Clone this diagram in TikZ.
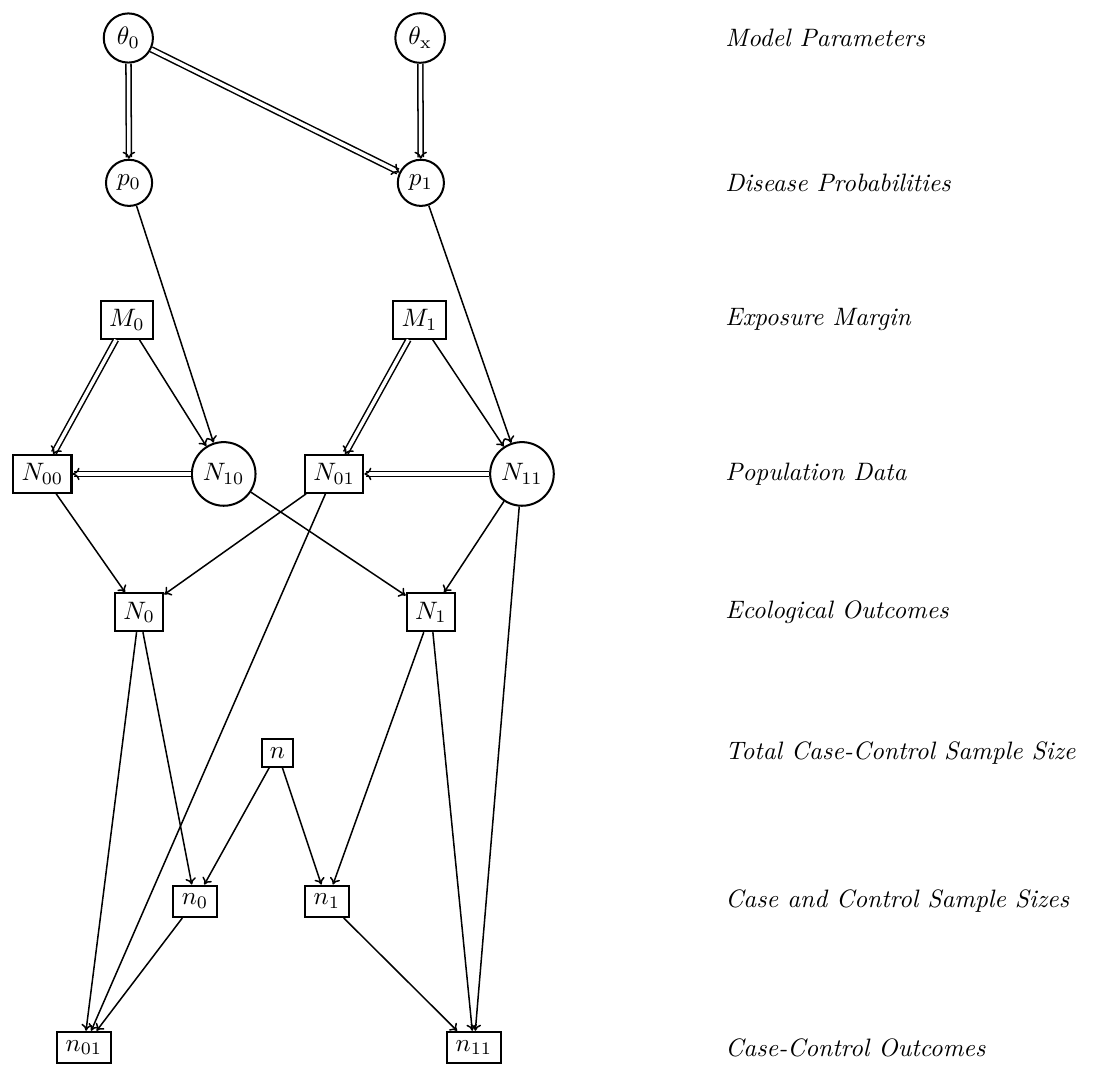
\documentclass[tikz,border=0pt]{standalone}
\usetikzlibrary{arrows.meta}
\begin{document}
\begin{tikzpicture}[semithick,
    >={Computer Modern Rightarrow[width = 4.2pt, length = 2.6pt]},
    lat/.style = {draw, circle, thick, inner sep = 2.5pt},
    obs/.style = {draw, rectangle, thick},
    dbl/.style = {double, double distance = 1.4pt,
        -{Computer Modern Rightarrow[line width = 0.6pt, width = 5pt, length = 2.8pt]}}]
    \useasboundingbox (0,0) rectangle (15.30,-14.86);
    % parameters and probabilities
    \node[lat] (theta0) at (1.79,-0.53) {$\theta_0$};
    \node[lat] (thetax) at (5.86,-0.53) {$\theta_{\mathrm{x}}$};
    \node[lat] (p0) at (1.80,-2.55) {$p_0$};
    \node[lat] (p1) at (5.87,-2.55) {$p_1$};
    % margins and population
    \node[obs] (M0) at (1.77,-4.46) {$M_0$};
    \node[obs] (M1) at (5.85,-4.46) {$M_1$};
    \node[obs] (N00) at (0.59,-6.61) {$N_{00}$};
    \node[lat] (N10) at (3.12,-6.61) {$N_{10}$};
    \node[obs] (N01) at (4.66,-6.61) {$N_{01}$};
    \node[lat] (N11) at (7.28,-6.61) {$N_{11}$};
    \node[obs] (N0) at (1.94,-8.54) {$N_0$};
    \node[obs] (N1) at (6.01,-8.54) {$N_1$};
    % case-control part
    \node[obs] (n) at (3.87,-10.50) {$n$};
    \node[obs] (n0) at (2.72,-12.57) {$n_0$};
    \node[obs] (n1) at (4.56,-12.57) {$n_1$};
    \node[obs] (n01) at (1.17,-14.61) {$n_{01}$};
    \node[obs] (n11) at (6.61,-14.61) {$n_{11}$};
    % deterministic links
    \foreach \a/\b in {theta0/p0, theta0/p1, thetax/p1, M0/N00, M1/N01, N10/N00, N11/N01}
        \draw[dbl] (\a) -- (\b);
    % stochastic links
    \foreach \a/\b in {p0/N10, p1/N11, M0/N10, M1/N11, N00/N0, N01/N0, N10/N1, N11/N1,
            N0/n01, N0/n0, N01/n01, N1/n1, N1/n11, N11/n11, n/n0, n/n1, n0/n01, n1/n11}
        \draw[->] (\a) -- (\b);
    % row captions
    \foreach \y/\txt [count = \i] in {-0.53/Model Parameters, -2.55/Disease Probabilities,
            -4.46/Exposure Margin, -6.61/Population Data, -8.54/Ecological Outcomes,
            -10.50/Total Case-Control Sample Size, -12.57/Case and Control Sample Sizes,
            -14.61/Case-Control Outcomes}
        \node[anchor = west] (cap\i) at (9.99,\y) {\textit{\txt}};
\end{tikzpicture}
\end{document}
